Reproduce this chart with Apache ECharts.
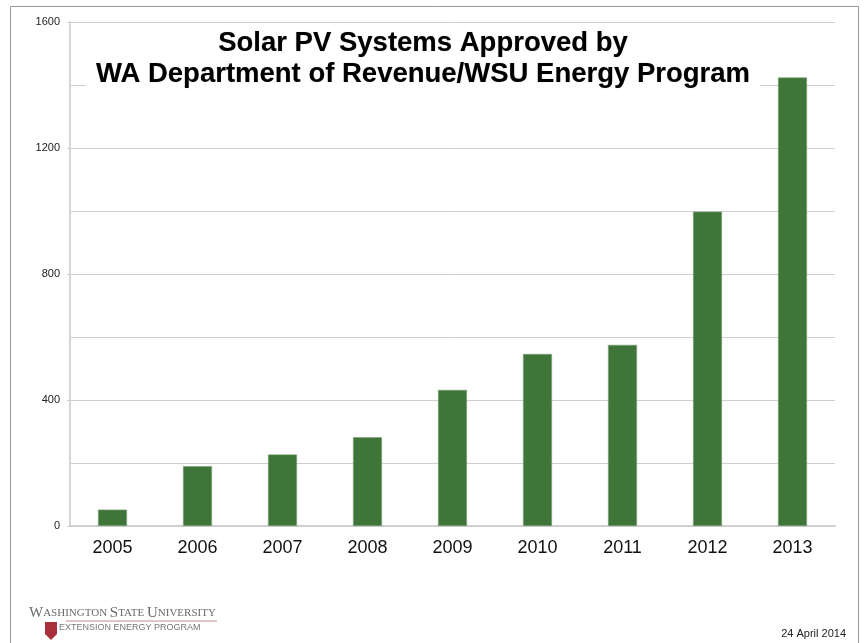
<!DOCTYPE html>
<html lang="en">
  <head>
    <meta charset="UTF-8" />
    <title>Solar PV Systems Approved</title>
    <script src="https://cdn.jsdelivr.net/npm/echarts@6/dist/echarts.min.js"></script>
    <style>
      html, body { margin: 0; padding: 0; background: #fff; }
      #main { width: 864px; height: 643px; }
    </style>
  </head>
  <body>
    <div id="main"></div>
    <script>
      // data
      var years = ["2005", "2006", "2007", "2008", "2009", "2010", "2011", "2012", "2013"];
      var approved = [52, 190, 227, 282, 432, 546, 575, 998, 1424];
      var yTicks = [0, 400, 800, 1200, 1600];

      var FONT = "Liberation Sans, Arial, sans-serif";
      var myChart = echarts.init(document.getElementById("main"));

      var option = {
        backgroundColor: "#fff",
        animation: false,
        title: {
          text: "Solar PV Systems Approved by\nWA Department of Revenue/WSU Energy Program",
          left: 413,
          top: 24,
          textAlign: "center",
          backgroundColor: "#fff",
          padding: [4, 10, 6, 10],
          textStyle: {
            fontFamily: FONT,
            fontSize: 27.5,
            fontWeight: "bold",
            color: "#000",
            lineHeight: 31,
            align: "center",
            textShadowColor: "rgba(0,0,0,0.35)",
            textShadowBlur: 1
          },
          z: 10
        },
        grid: { left: 70, right: 29, top: 22, bottom: 117 },
        xAxis: {
          type: "category",
          data: years,
          axisLine: { lineStyle: { color: "#cfcfcf", width: 2 } },
          axisTick: { show: false },
          axisLabel: { fontFamily: FONT, fontSize: 18, color: "#111", margin: 13 }
        },
        yAxis: {
          type: "value",
          min: yTicks[0],
          max: yTicks[yTicks.length - 1],
          interval: 400,
          axisLine: { show: true, lineStyle: { color: "#d6d6d6", width: 2 } },
          axisTick: { show: true, length: 3, lineStyle: { color: "#cfcfcf" } },
          axisLabel: {
            fontFamily: FONT,
            fontSize: 11,
            color: "#222",
            margin: 10,
            formatter: function (v) { return String(v); }
          },
          splitLine: { lineStyle: { color: "#cfcfcf", width: 1 } },
          minorTick: { show: false, splitNumber: 2 },
          minorSplitLine: { show: true, lineStyle: { color: "#cfcfcf", width: 1 } }
        },
        series: [
          {
            type: "bar",
            data: approved,
            barWidth: 29,
            itemStyle: { color: "#3f7539", borderColor: "#7fa07a", borderWidth: 0.6 }
          }
        ],
        graphic: [
          {
            type: "rect",
            shape: { x: 10.5, y: 6.5, width: 848, height: 660 },
            style: { fill: "none", stroke: "#999", lineWidth: 1 },
            silent: true
          },
          {
            type: "text",
            left: 29,
            top: 606,
            style: {
              text: "{b|W}{s|ASHINGTON }{b|S}{s|TATE }{b|U}{s|NIVERSITY}",
              rich: {
                b: { fontFamily: "Liberation Serif, serif", fontSize: 15, fill: "#6a6a6a" },
                s: { fontFamily: "Liberation Serif, serif", fontSize: 11, fill: "#6a6a6a" }
              }
            }
          },
          {
            type: "rect",
            shape: { x: 66, y: 620.5, width: 151, height: 1 },
            style: { fill: "#c98a8a" }
          },
          {
            type: "polygon",
            shape: { points: [[45, 622], [57, 622], [57, 634], [51, 640], [45, 634]] },
            style: { fill: "#a8303a" }
          },
          {
            type: "text",
            left: 59,
            top: 623,
            style: {
              text: "EXTENSION ENERGY PROGRAM",
              fontFamily: FONT,
              fontSize: 9,
              fill: "#777"
            }
          },
          {
            type: "text",
            right: 18,
            top: 628,
            style: {
              text: "24 April 2014",
              fontFamily: FONT,
              fontSize: 11,
              fill: "#222"
            }
          }
        ]
      };
      option && myChart.setOption(option);
    </script>
  </body>
</html>
